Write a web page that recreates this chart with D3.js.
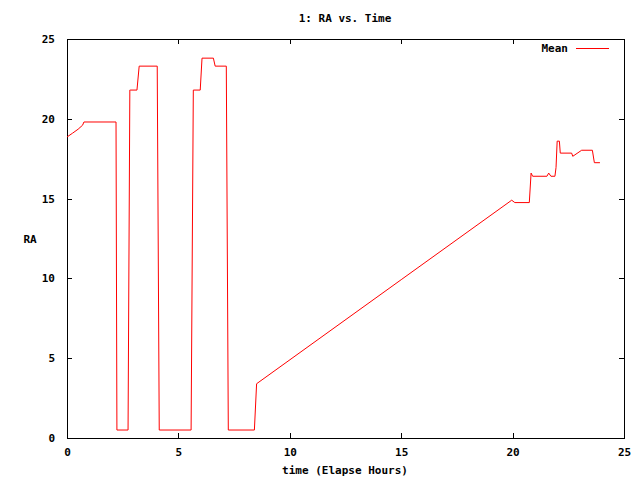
<!DOCTYPE html>
<html>
<head>
<meta charset="utf-8">
<script src="https://cdn.jsdelivr.net/npm/d3@7"></script>
<style>
  body { margin: 0; background: #fff; }
  svg text { font-family: "DejaVu Sans Mono", monospace; font-size: 11px; font-weight: bold; fill: #000; }
</style>
</head>
<body>
<svg id="chart" width="640" height="480"></svg>
<script>
// DATA
const times = [0, 0.25, 0.5, 0.7, 0.76, 2.2, 2.24, 2.74, 2.82, 2.84, 3.14, 3.24, 4.05, 4.14, 5.57, 5.67,
  5.98, 6.06, 6.57, 6.65, 7.15, 7.24, 8.41, 8.51, 15, 19.96, 20.1, 20.75, 20.83, 20.9, 21.54, 21.62,
  21.72, 21.9, 21.95, 22.0, 22.1, 22.14, 22.65, 22.7, 23.1, 23.58, 23.67, 23.92];
const ra = [18.86, 19.1, 19.35, 19.6, 19.8, 19.8, 0.5, 0.5, 21.8, 21.8, 21.8, 23.3, 23.3, 0.5, 0.5, 21.8,
  21.8, 23.8, 23.8, 23.3, 23.3, 0.5, 0.5, 3.4, 9.92, 14.9, 14.75, 14.75, 16.6, 16.4, 16.4, 16.6,
  16.4, 16.4, 16.95, 18.6, 18.6, 17.85, 17.85, 17.65, 18.03, 18.03, 17.25, 17.25];
const xTicks = [0, 5, 10, 15, 20, 25];
const yTicks = [0, 5, 10, 15, 20, 25];

// SETUP
const svg = d3.select('svg'),
  margin = { top: 39, right: 16, bottom: 42, left: 67 },
  width = 640 - margin.left - margin.right,
  height = 480 - margin.top - margin.bottom;

const x = d3.scaleLinear().domain([0, 25]).range([0, width]);
const y = d3.scaleLinear().domain([0, 25]).range([height, 0]);

const g = svg.append('g')
  .attr('transform', 'translate(' + margin.left + ',' + margin.top + ')');

// AXES (ticks inside, mirrored like gnuplot)
function styleAxis(sel) {
  sel.select('.domain').remove();
  sel.selectAll('line').attr('stroke', '#000').attr('shape-rendering', 'crispEdges');
}
g.append('g').attr('transform', 'translate(0,' + height + ')')
  .call(d3.axisBottom(x).tickValues(xTicks).tickSizeInner(-5).tickPadding(10).tickFormat(d3.format('d')))
  .call(styleAxis);
g.append('g').attr('transform', 'translate(0,0)')
  .call(d3.axisTop(x).tickValues(xTicks.slice(1, -1)).tickSizeInner(-5).tickFormat(''))
  .call(styleAxis);
g.append('g')
  .call(d3.axisLeft(y).tickValues(yTicks).tickSizeInner(-5).tickPadding(12).tickFormat(d3.format('d')))
  .call(styleAxis);
g.append('g').attr('transform', 'translate(' + width + ',0)')
  .call(d3.axisRight(y).tickValues(yTicks.slice(1, -1)).tickSizeInner(-5).tickFormat(''))
  .call(styleAxis);
g.selectAll('.tick text').attr('font-family', null).attr('font-size', null);

// BORDER
g.append('rect')
  .attr('x', 0).attr('y', 0).attr('width', width).attr('height', height)
  .attr('fill', 'none').attr('stroke', '#000').attr('shape-rendering', 'crispEdges');

// LINE
const pts = times.map((t, i) => [t, ra[i]]);
g.append('path')
  .datum(pts)
  .attr('fill', 'none')
  .attr('stroke', '#ff0000')
  .attr('stroke-width', 1)
  .attr('d', d3.line().x(d => x(d[0])).y(d => y(d[1])));

// LABELS
svg.append('text').attr('x', 345).attr('y', 22).attr('text-anchor', 'middle').text('1: RA vs. Time');
svg.append('text').attr('x', 345).attr('y', 474).attr('text-anchor', 'middle').text('time (Elapse Hours)');
svg.append('text').attr('x', 30).attr('y', 243).attr('text-anchor', 'middle').text('RA');

// LEGEND
svg.append('text').attr('x', 568).attr('y', 52).attr('text-anchor', 'end').text('Mean');
svg.append('line').attr('x1', 576).attr('x2', 609).attr('y1', 48.5).attr('y2', 48.5)
  .attr('stroke', '#ff0000');
</script>
</body>
</html>
